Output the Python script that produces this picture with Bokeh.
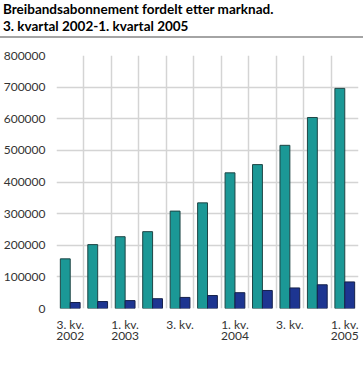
from bokeh.plotting import figure
from bokeh.layouts import column
from bokeh.models import (ColumnDataSource, Range1d, FixedTicker, NumeralTickFormatter,
                          Legend, LegendItem, Div)
from bokeh.embed import file_html
from bokeh.resources import INLINE

# ---------------- data ----------------
title_lines = ["Breibandsabonnement fordelt etter marknad.",
               "3. kvartal 2002-1. kvartal 2005"]
quarters = ["3. kv. 2002", "4. kv. 2002", "1. kv. 2003", "2. kv. 2003", "3. kv. 2003",
            "4. kv. 2003", "1. kv. 2004", "2. kv. 2004", "3. kv. 2004", "4. kv. 2004",
            "1. kv. 2005"]
tick_labels = ["3. kv.\n2002", "", "1. kv.\n2003", "", "3. kv.", "",
               "1. kv.\n2004", "", "3. kv.", "", "1. kv.\n2005"]
privat = [157000, 202000, 227000, 243000, 308000, 334000, 429000, 455000, 516000, 604000, 696000]
bedrift = [19000, 22000, 25000, 31000, 35000, 41000, 50000, 57000, 65000, 75000, 84000]
series_names = ["Privatmarkedet", "Bedriftsmarkedet"]
series_colors = ["#1b9896", "#1d3591"]
series_lines = ["#1f4545", "#15204a"]
y_ticks = [0, 100000, 200000, 300000, 400000, 500000, 600000, 700000, 800000]

FONT = "Lato"
RULE = "#a4a4a4"
W = 363
n = len(quarters)
centers = [i + 0.5 for i in range(n)]
off = 0.18
bw = 0.36

src = ColumnDataSource(dict(
    quarter=quarters,
    xp=[c - off for c in centers],
    xb=[c + off for c in centers],
    privat=privat,
    bedrift=bedrift,
))


def rule():
    return Div(text="", width=W, height=2, margin=(0, 0, 0, 0),
               styles={"background-color": RULE})


# ---------------- title ----------------
title_html = (
    "<div style=\"font-family:'Lato';font-weight:bold;font-size:13.5px;line-height:17px;"
    "color:#000;padding-left:3px;padding-top:1px;\">%s<br>%s</div>"
    % (title_lines[0], title_lines[1])
)
t = Div(text=title_html, width=W, height=36, margin=(0, 0, 0, 0))

# ---------------- main figure ----------------
p = figure(title=None, frame_width=302, frame_height=253,
           x_range=Range1d(0, n), y_range=Range1d(0, 800000),
           output_backend="svg", toolbar_location=None,
           min_border_left=51, min_border_right=10, min_border_top=17, min_border_bottom=0,
           outline_line_color=None)

r1 = p.vbar(x="xp", top="privat", width=bw, source=src, fill_color=series_colors[0],
            line_color=series_lines[0], line_width=1)
r2 = p.vbar(x="xb", top="bedrift", width=bw, source=src, fill_color=series_colors[1],
            line_color=series_lines[1], line_width=1)

p.yaxis.ticker = FixedTicker(ticks=y_ticks)
p.yaxis.formatter = NumeralTickFormatter(format="0")
p.yaxis.axis_line_color = None
p.yaxis.major_tick_line_color = None
p.yaxis.minor_tick_line_color = None
p.yaxis.major_label_standoff = 5
p.yaxis.major_label_text_font = FONT
p.yaxis.major_label_text_font_size = "12px"
p.yaxis.major_label_text_color = "#333333"

p.xaxis.ticker = FixedTicker(ticks=centers)
p.xaxis.major_label_overrides = {c: lab for c, lab in zip(centers, tick_labels)}
p.xaxis.axis_line_color = None
p.xaxis.major_tick_line_color = None
p.xaxis.minor_tick_line_color = None
p.xaxis.major_label_standoff = 2
p.xaxis.major_label_text_font = FONT
p.xaxis.major_label_text_font_size = "12px"
p.xaxis.major_label_text_line_height = 0.78
p.xaxis.major_label_text_color = "#333333"

p.ygrid.ticker = FixedTicker(ticks=y_ticks)
p.ygrid.grid_line_color = "#d4d4d4"
p.ygrid.grid_line_width = 1.5
p.xgrid.ticker = FixedTicker(ticks=list(range(n + 1)))
p.xgrid.grid_line_color = "#d4d4d4"
p.xgrid.grid_line_width = 1.5

legend = Legend(items=[LegendItem(label=series_names[0], renderers=[r1]),
                       LegendItem(label=series_names[1], renderers=[r2])],
                orientation="horizontal", location=(20, 14),
                glyph_width=20, glyph_height=15, label_standoff=4, spacing=11,
                padding=0, margin=3, border_line_color=None, background_fill_alpha=0,
                label_text_font=FONT, label_text_font_size="12px",
                label_text_color="#333333", label_height=15)
p.add_layout(legend, "below")

layout = column(t, rule(), p, rule(), spacing=0)
open("out.html", "w").write(file_html(layout, INLINE))
